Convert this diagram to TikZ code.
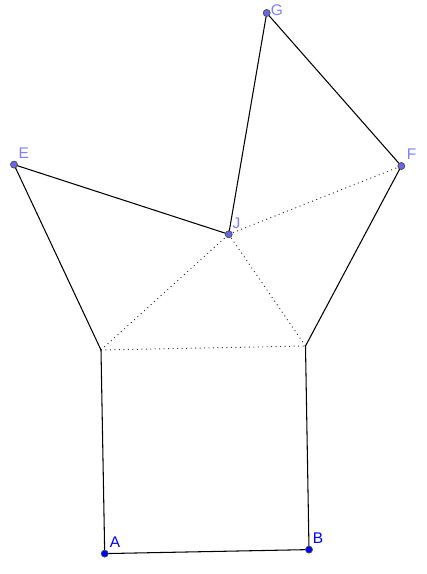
\documentclass[tikz,border=0pt]{standalone}
\usepackage{fontspec}
\setmainfont{Liberation Sans}
\usepackage{tikz}
\usetikzlibrary{calc}
\definecolor{ptblue}{RGB}{0,0,255}
\definecolor{ptlight}{RGB}{102,102,230}
\definecolor{lblight}{RGB}{127,127,255}
\def\fixpt(#1)#2{\fill[#2, draw=black!70, line width=0.4pt] (#1) circle (2pt);}

\begin{document}
\begin{tikzpicture}[x=0.02cm, y=-0.02cm, line width=0.6pt,
	side/.style={draw=black},
	aux/.style={draw=black!80, dotted, line width=0.55pt},
	lbl/.style={font=\fontsize{8.8}{10}\selectfont, inner sep=0pt}]
			%%%%% START %%%%%
			\useasboundingbox (0, 0) rectangle (426, 574);
			
			\coordinate (A) at (104.7, 553.6);
			\coordinate (B) at (309, 549.6);
			\coordinate (C) at (101, 350);
			\coordinate (D) at (305.5, 346);
			\coordinate (E) at (14, 164.6);
			\coordinate (F) at (401.3, 166);
			\coordinate (G) at (266.7, 13);
			\coordinate (J) at (228.7, 234.3);
			
			\draw[aux] (C) -- (D);
			\draw[aux] (C) -- (J);
			\draw[aux] (J) -- (D);
			\draw[aux] (J) -- (F);
			
			\draw[side] (A) -- (B) -- (D);
			\draw[side] (A) -- (C) -- (E) -- (J) -- (G) -- (F) -- (D);
			
			\fixpt(A){ptblue}
			\fixpt(B){ptblue}
			\fixpt(E){ptlight}
			\fixpt(F){ptlight}
			\fixpt(G){ptlight}
			\fixpt(J){ptlight}
			
			\node[lbl, text=ptblue] (lA) at (115, 542.2) {A};
			\node[lbl, text=ptblue] (lB) at (318, 538.5) {B};
			\node[lbl, text=lblight] (lE) at (23.8, 153.3) {E};
			\node[lbl, text=lblight] (lF) at (411.7, 154.2) {F};
			\node[lbl, text=lblight] (lG) at (277, 10) {G};
			\node[lbl, text=lblight] (lJ) at (236.5, 223.5) {J};
			%%%%% END %%%%%
\end{tikzpicture}
\end{document}
